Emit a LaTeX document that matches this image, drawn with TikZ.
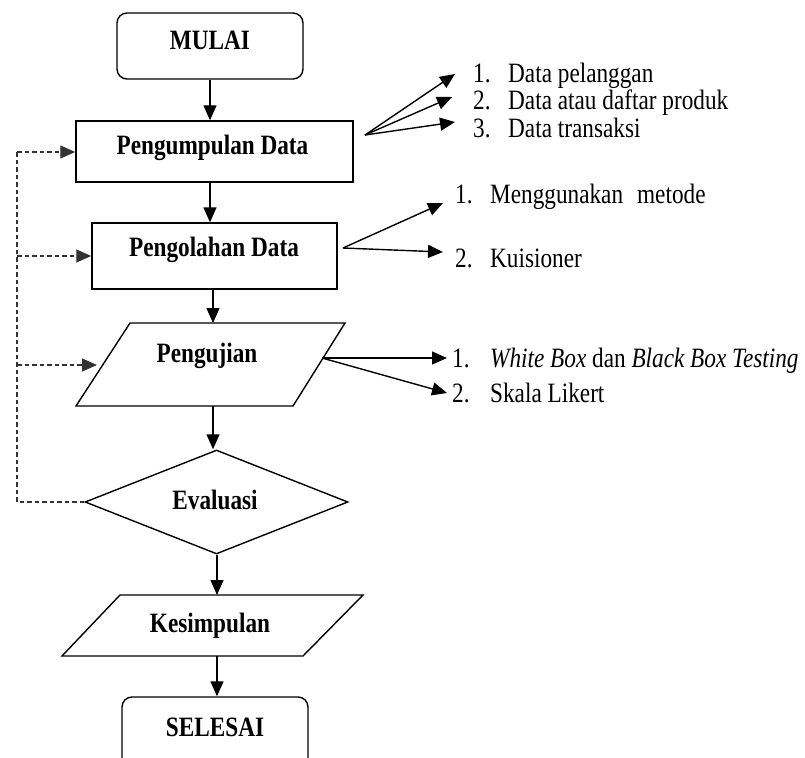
\documentclass[tikz,border=0pt]{standalone}
\usepackage{fontspec}
\setmainfont{Liberation Serif}[FakeStretch=0.83]
\usetikzlibrary{arrows.meta,shapes.geometric}
\begin{document}
\begin{tikzpicture}[x=1pt,y=-1pt,
  every node/.style={font=\fontsize{28}{32}\selectfont},
  shp/.style={draw, line width=1.4pt, inner sep=0pt},
  rbox/.style={shp, rectangle, rounded corners=10pt},
  pbox/.style={shp, rectangle},
  dbox/.style={shp, diamond},
  lbl/.style={font=\fontsize{28}{32}\selectfont\bfseries, inner sep=0pt, anchor=base},
  item/.style={anchor=base west, inner sep=0pt},
  flow/.style={line width=1.4pt, -{Triangle[length=15pt,width=13pt]}},
  fb/.style={line width=1.3pt, dash pattern=on 4.5pt off 3pt, black!80},
  fbarrow/.style={fb, -{Triangle[length=15pt,width=13pt]}}
]
\useasboundingbox (0,0) rectangle (805,757);

% main flow shapes
\node[rbox, minimum width=186pt, minimum height=66pt] (mulai) at (210,46) {};
\node[lbl] (tmulai) at (210,50) {MULAI};

\node[pbox, minimum width=277pt, minimum height=61pt] (pd) at (214.5,151.5) {};
\node[lbl] (tpd) at (212.5,154) {Pengumpulan Data};

\node[pbox, minimum width=245pt, minimum height=66pt] (po) at (214.5,256) {};
\node[lbl] (tpo) at (214,256) {Pengolahan Data};

\draw[line width=1.4pt] (130,323) -- (345,323) -- (293,406) -- (76,406) -- cycle;
\coordinate (uji-n) at (213,323);
\coordinate (uji-s) at (213,406);
\coordinate (uji-w) at (97,365);
\coordinate (uji-e) at (322,358);
\node[lbl] (tuji) at (207,362) {Pengujian};

\node[dbox, minimum width=263pt, minimum height=104pt] (ev) at (216.5,502) {};
\node[lbl] (tev) at (215,509) {Evaluasi};

\draw[line width=1.4pt] (120,595) -- (363,595) -- (303,656) -- (62,656) -- cycle;
\coordinate (kes-n) at (217,595);
\coordinate (kes-s) at (217,656);
\node[lbl] (tkes) at (210,632) {Kesimpulan};

\node[rbox, minimum width=186pt, minimum height=96pt] (sel) at (215,745) {};
\node[lbl] (tsel) at (215,736) {SELESAI};

% main arrows
\draw[flow] (mulai.south) -- (mulai.south |- pd.north);
\draw[flow] (pd.south -| mulai.south) -- (mulai.south |- po.north);
\draw[flow] (po.south -| uji-n) -- (uji-n);
\draw[flow] (uji-s) -- (uji-s |- ev.north);
\draw[flow] (ev.south -| kes-n) -- (kes-n);
\draw[flow] (kes-s) -- (kes-s |- sel.north);

% feedback dashed lines
\coordinate (fbtop) at (17,152);
\draw[fb] (ev.west) -| (fbtop);
\draw[fbarrow] (fbtop) -- (pd.west |- fbtop);
\draw[fbarrow] (fbtop |- po.west) -- (po.west);
\draw[fbarrow] (fbtop |- uji-w) -- (uji-w);

% side lists
\coordinate (c1) at (365,135);
\coordinate (t11) at (455,74);
\coordinate (t12) at (452,97);
\coordinate (t13) at (455,122);
\draw[flow] (c1) -- (t11);
\draw[flow] (c1) -- (t12);
\draw[flow] (c1) -- (t13);
\node[item] (i11) at (473,83) {\makebox[35pt][l]{1.}Data pelanggan};
\node[item] (i12) at (473,110) {\makebox[35pt][l]{2.}Data atau daftar produk};
\node[item] (i13) at (473,137) {\makebox[35pt][l]{3.}Data transaksi};

\coordinate (c2) at (343,248);
\coordinate (t21) at (443,203);
\coordinate (t22) at (443,252);
\draw[flow] (c2) -- (t21);
\draw[flow] (c2) -- (t22);
\node[item] (i21) at (455,203) {\makebox[35pt][l]{1.}Menggunakan\hspace{14pt}metode};
\node[item] (i22) at (455,267) {\makebox[35pt][l]{2.}Kuisioner};

\coordinate (t31) at (447,358);
\coordinate (t32) at (447,393);
\draw[flow] (uji-e) -- (t31);
\draw[flow] (uji-e) -- (t32);
\node[item] (i31) at (452,367) {\makebox[38pt][l]{1.}\textit{White Box} dan \textit{Black Box Testing}};
\node[item] (i32) at (452,402) {\makebox[38pt][l]{2.}Skala Likert};
\end{tikzpicture}
\end{document}
